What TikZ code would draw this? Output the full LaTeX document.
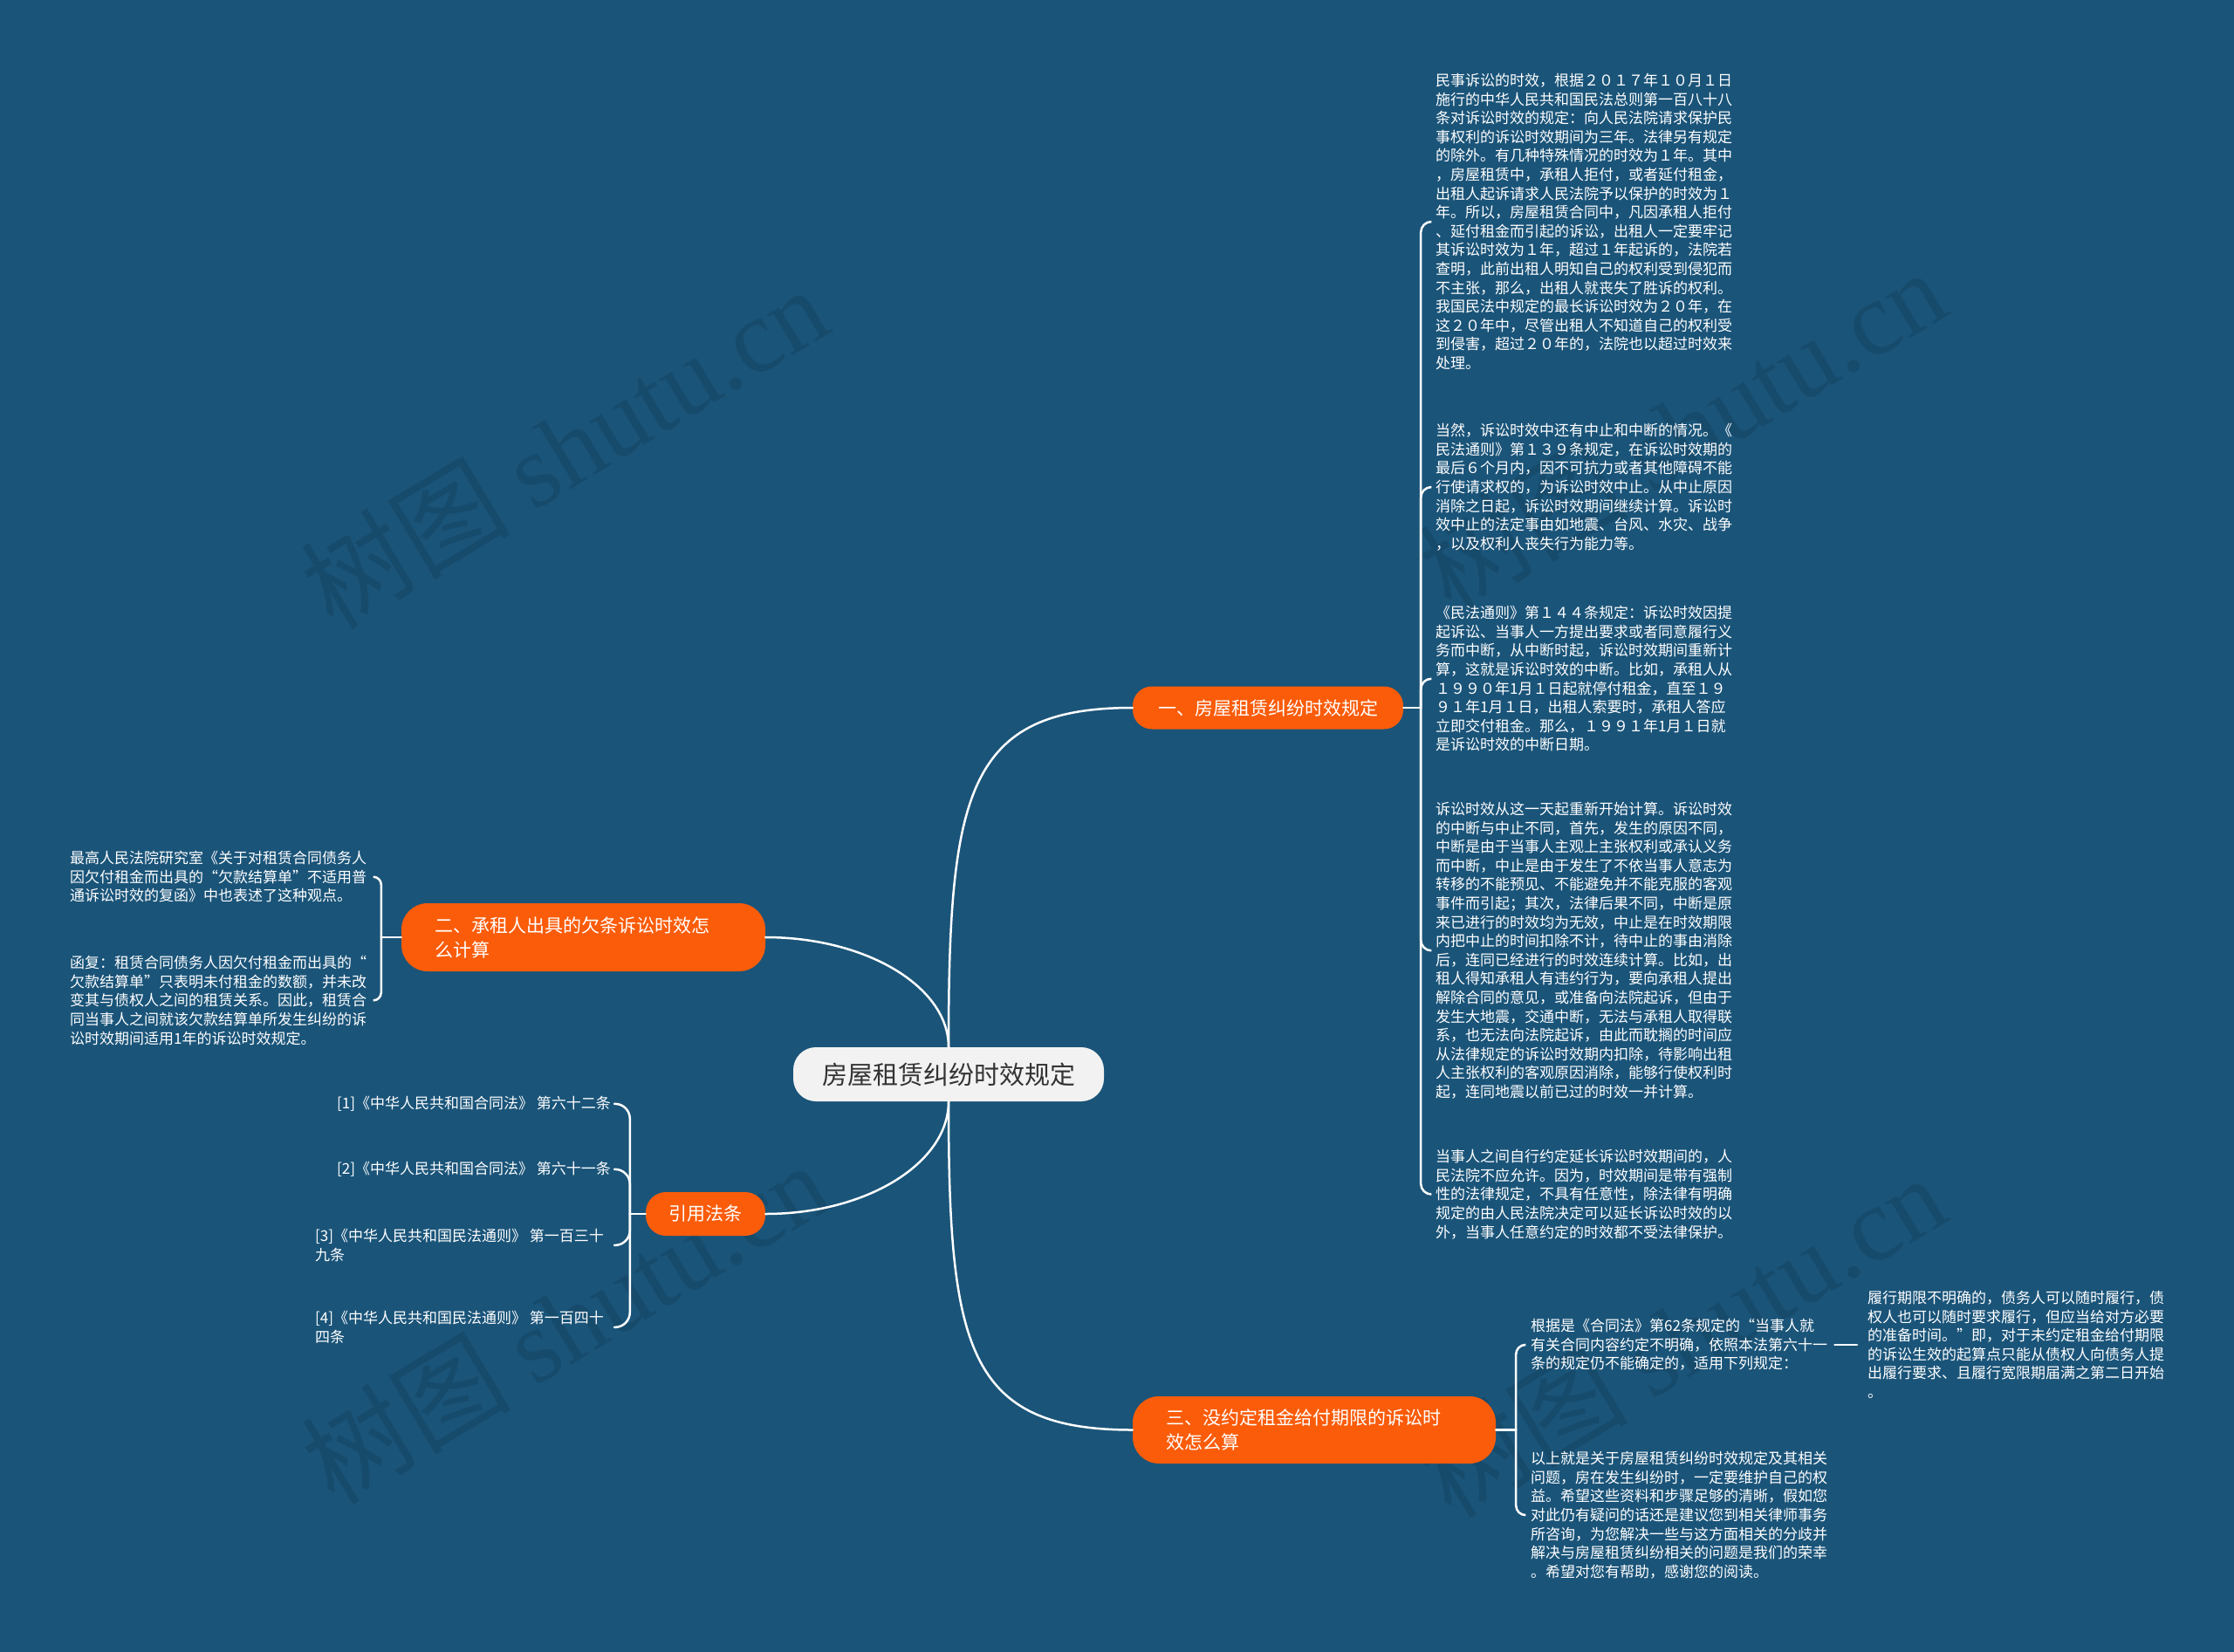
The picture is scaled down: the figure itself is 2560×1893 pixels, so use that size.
\documentclass[tikz,border=0pt]{standalone}
\usepackage{fontspec}
\setmainfont{Noto Sans CJK SC}
\newfontfamily\wmserif{Liberation Serif}
\usetikzlibrary{calc}
\definecolor{bgc}{RGB}{26,84,121}
\definecolor{orc}{RGB}{250,92,10}
\definecolor{cgray}{RGB}{242,242,242}
\definecolor{ctext}{RGB}{51,51,51}
\tikzset{
  leaf/.style={anchor=north west, inner sep=0pt, align=left, text=white, font=\fontsize{17}{21.6}\selectfont},
  branchbox/.style={fill=orc, text=white, inner sep=0pt, font=\fontsize{21}{28}\selectfont},
  conn/.style={draw=white, line width=2.5pt, line cap=round},
  wmark/.style={rotate=31, text=black, opacity=0.1, font=\fontsize{120}{120}\selectfont},
}
\begin{document}
\begin{tikzpicture}[x=1pt,y=-1pt]
\fill[bgc] (0,0) rectangle (2560,1893);
\useasboundingbox (0,0) rectangle (2560,1893);

% watermarks
\node[wmark] (wm1) at (646,512) {树图 {\wmserif shutu.cn}};
\node[wmark] (wm2) at (1927,492) {树图 {\wmserif shutu.cn}};
\node[wmark] (wm3) at (647,1515) {树图 {\wmserif shutu.cn}};
\node[wmark] (wm4) at (1927,1530) {树图 {\wmserif shutu.cn}};

% center
\node[fill=cgray, text=ctext, rounded corners=26pt, minimum width=356pt, minimum height=62pt, inner sep=0pt, font=\fontsize{29}{34}\selectfont] (c) at (1087,1231) {房屋租赁纠纷时效规定};

% branches
\node[branchbox, rounded corners=22pt, minimum width=310pt, minimum height=49pt] (b1) at (1453,811) {一、房屋租赁纠纷时效规定};
\node[branchbox, rounded corners=30pt, minimum height=78pt, text width=340pt, align=left, inner xsep=38.5pt] (b2) at (668.5,1074) {二、承租人出具的欠条诉讼时效怎\\么计算};
\node[branchbox, rounded corners=23pt, minimum width=137pt, minimum height=50pt] (b3) at (808.5,1391) {引用法条};
\node[branchbox, rounded corners=30pt, minimum height=77pt, text width=340pt, align=left, inner xsep=38pt] (b4) at (1506,1638.5) {三、没约定租金给付期限的诉讼时\\效怎么算};

% center connectors
\draw[conn] (c.north) .. controls ($(c.north)!0.75!(c.north|-b1.west)$) and ($(b1.west)!0.9!(c.north|-b1.west)$) .. (b1.west);
\draw[conn] (c.north) .. controls ($(c.north)!0.55!(c.north|-b2.east)$) and ($(b2.east)!0.55!(c.north|-b2.east)$) .. (b2.east);
\draw[conn] (c.south) .. controls ($(c.south)!0.55!(c.south|-b3.east)$) and ($(b3.east)!0.55!(c.south|-b3.east)$) .. (b3.east);
\draw[conn] (c.south) .. controls ($(c.south)!0.75!(c.south|-b4.west)$) and ($(b4.west)!0.9!(c.south|-b4.west)$) .. (b4.west);

% branch 1 leaves
\node[leaf] (k1) at (1645,84) {民事诉讼的时效，根据２０１７年１０月１日\\施行的中华人民共和国民法总则第一百八十八\\条对诉讼时效的规定：向人民法院请求保护民\\事权利的诉讼时效期间为三年。法律另有规定\\的除外。有几种特殊情况的时效为１年。其中\\，房屋租赁中，承租人拒付，或者延付租金，\\出租人起诉请求人民法院予以保护的时效为１\\年。所以，房屋租赁合同中，凡因承租人拒付\\、延付租金而引起的诉讼，出租人一定要牢记\\其诉讼时效为１年，超过１年起诉的，法院若\\查明，此前出租人明知自己的权利受到侵犯而\\不主张，那么，出租人就丧失了胜诉的权利。\\我国民法中规定的最长诉讼时效为２０年，在\\这２０年中，尽管出租人不知道自己的权利受\\到侵害，超过２０年的，法院也以超过时效来\\处理。};
\node[leaf] (k2) at (1645,485) {当然，诉讼时效中还有中止和中断的情况。《\\民法通则》第１３９条规定，在诉讼时效期的\\最后６个月内，因不可抗力或者其他障碍不能\\行使请求权的，为诉讼时效中止。从中止原因\\消除之日起，诉讼时效期间继续计算。诉讼时\\效中止的法定事由如地震、台风、水灾、战争\\，以及权利人丧失行为能力等。};
\node[leaf] (k3) at (1645,694) {《民法通则》第１４４条规定：诉讼时效因提\\起诉讼、当事人一方提出要求或者同意履行义\\务而中断，从中断时起，诉讼时效期间重新计\\算，这就是诉讼时效的中断。比如，承租人从\\１９９０年1月１日起就停付租金，直至１９\\９１年1月１日，出租人索要时，承租人答应\\立即交付租金。那么，１９９１年1月１日就\\是诉讼时效的中断日期。};
\node[leaf] (k4) at (1645,919) {诉讼时效从这一天起重新开始计算。诉讼时效\\的中断与中止不同，首先，发生的原因不同，\\中断是由于当事人主观上主张权利或承认义务\\而中断，中止是由于发生了不依当事人意志为\\转移的不能预见、不能避免并不能克服的客观\\事件而引起；其次，法律后果不同，中断是原\\来已进行的时效均为无效，中止是在时效期限\\内把中止的时间扣除不计，待中止的事由消除\\后，连同已经进行的时效连续计算。比如，出\\租人得知承租人有违约行为，要向承租人提出\\解除合同的意见，或准备向法院起诉，但由于\\发生大地震，交通中断，无法与承租人取得联\\系，也无法向法院起诉，由此而耽搁的时间应\\从法律规定的诉讼时效期内扣除，待影响出租\\人主张权利的客观原因消除，能够行使权利时\\起，连同地震以前已过的时效一并计算。};
\node[leaf] (k5) at (1645,1317) {当事人之间自行约定延长诉讼时效期间的，人\\民法院不应允许。因为，时效期间是带有强制\\性的法律规定，不具有任意性，除法律有明确\\规定的由人民法院决定可以延长诉讼时效的以\\外，当事人任意约定的时效都不受法律保护。};

\coordinate (s1) at ($(b1.east)+(20,0)$);
\draw[conn] (b1.east) -- (s1);
\foreach \k in {k1,k2,k3,k4,k5}{
  \draw[conn, rounded corners=12pt] (s1) |- ([xshift=-5pt]\k.west);
}

% branch 2 leaves
\node[leaf] (l1) at (80,975) {最高人民法院研究室《关于对租赁合同债务人\\因欠付租金而出具的“欠款结算单”不适用普\\通诉讼时效的复函》中也表述了这种观点。};
\node[leaf] (l2) at (80,1095) {函复：租赁合同债务人因欠付租金而出具的“\\欠款结算单”只表明未付租金的数额，并未改\\变其与债权人之间的租赁关系。因此，租赁合\\同当事人之间就该欠款结算单所发生纠纷的诉\\讼时效期间适用1年的诉讼时效规定。};
\coordinate (s2) at ($(b2.west)+(-23,0)$);
\coordinate (hx2) at (428,0);
\draw[conn] (b2.west) -- (s2);
\foreach \k in {l1,l2}{
  \draw[conn, rounded corners=9pt] (s2) |- (\k.east -| hx2);
}

% branch 3 leaves
\node[leaf] (r1) at (386,1256) {[1]《中华人民共和国合同法》 第六十二条};
\node[leaf] (r2) at (386,1331) {[2]《中华人民共和国合同法》 第六十一条};
\node[leaf] (r3) at (361,1408) {[3]《中华人民共和国民法通则》 第一百三十\\九条};
\node[leaf] (r4) at (361,1502) {[4]《中华人民共和国民法通则》 第一百四十\\四条};
\coordinate (s3) at ($(b3.west)+(-18,0)$);
\coordinate (hx3) at (704,0);
\draw[conn] (b3.west) -- (s3);
\foreach \k in {r1,r2,r3,r4}{
  \draw[conn, rounded corners=17pt] (s3) |- (\k.west -| hx3);
}

% branch 4 leaves
\node[leaf] (ka) at (1754,1511) {根据是《合同法》第62条规定的“当事人就\\有关合同内容约定不明确，依照本法第六十一\\条的规定仍不能确定的，适用下列规定：};
\node[leaf] (kb) at (2140,1479) {履行期限不明确的，债务人可以随时履行，债\\权人也可以随时要求履行，但应当给对方必要\\的准备时间。”即，对于未约定租金给付期限\\的诉讼生效的起算点只能从债权人向债务人提\\出履行要求、且履行宽限期届满之第二日开始\\。};
\node[leaf] (kc) at (1754,1663) {以上就是关于房屋租赁纠纷时效规定及其相关\\问题，房在发生纠纷时，一定要维护自己的权\\益。希望这些资料和步骤足够的清晰，假如您\\对此仍有疑问的话还是建议您到相关律师事务\\所咨询，为您解决一些与这方面相关的分歧并\\解决与房屋租赁纠纷相关的问题是我们的荣幸\\。希望对您有帮助，感谢您的阅读。};
\coordinate (s4) at ($(b4.east)+(23,0)$);
\draw[conn] (b4.east) -- (s4);
\foreach \k in {ka,kc}{
  \draw[conn, rounded corners=11pt] (s4) |- ([xshift=-6pt]\k.west);
}
\coordinate (hxb) at (2128,0);
\draw[conn] ([xshift=8pt]ka.east) -- (ka.east -| hxb);
\end{tikzpicture}
\end{document}
